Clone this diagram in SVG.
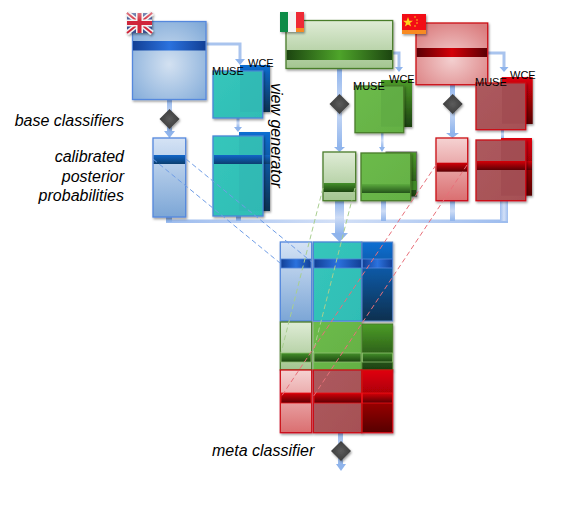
<svg xmlns="http://www.w3.org/2000/svg" width="579" height="508" viewBox="0 0 579 508">
<style>
.lbl{font:italic 16px "Liberation Sans",Arial,sans-serif;fill:#000}
.tag{font:11px "Liberation Sans",Arial,sans-serif;fill:#000}
.s{filter:url(#sh)}
.bl{stroke:#5588dd;stroke-width:1.3}
.gr{stroke:#4a7d2c;stroke-width:1.3}
.rd{stroke:#cc0f18;stroke-width:1.3}
.te{stroke:#4a86d8;stroke-width:1.3;fill:url(#teal)}
.mg{stroke:#4a7d2c;stroke-width:1.3;fill:url(#midg)}
.mr{stroke:#cc0f18;stroke-width:1.3;fill:url(#midr)}
.flow{fill:url(#fv)}
.flowh{fill:url(#fh)}
.head{fill:#8fb4ec}
.dash{fill:none;stroke-width:1;stroke-dasharray:5 3}
.db{stroke:#6f9de6}.dg{stroke:#a9cf90}.dr{stroke:#e8707a}
</style>
<defs>
<filter id="sh" x="-20%" y="-20%" width="150%" height="150%"><feDropShadow dx="1" dy="1.5" stdDeviation="1.3" flood-color="#000" flood-opacity=".4"/></filter>
<radialGradient id="bb" cx=".5" cy=".55" r=".7"><stop offset="0" stop-color="#d3e1f1"/><stop offset="1" stop-color="#7fa9d8"/></radialGradient>
<linearGradient id="bv" x1="0" y1="0" x2="0" y2="1"><stop offset="0" stop-color="#d5e3f5"/><stop offset="1" stop-color="#7ca6d6"/></linearGradient>
<linearGradient id="bandb" x1="0" y1="0" x2="1" y2="0"><stop offset="0" stop-color="#123f95"/><stop offset=".5" stop-color="#2b72de"/><stop offset="1" stop-color="#123f95"/></linearGradient>
<linearGradient id="bandb2" x1="0" y1="0" x2="0" y2="1"><stop offset="0" stop-color="#1266c8"/><stop offset="1" stop-color="#0b3f70"/></linearGradient>
<linearGradient id="db" x1="0" y1="0" x2="0" y2="1"><stop offset="0" stop-color="#0a6ed2"/><stop offset="1" stop-color="#08304f"/></linearGradient>
<linearGradient id="teal" x1="0" y1="0" x2="1" y2="1"><stop offset="0" stop-color="#36c6bb"/><stop offset="1" stop-color="#2fbdb5"/></linearGradient>
<linearGradient id="gv" x1="0" y1="0" x2="0" y2="1"><stop offset="0" stop-color="#dfecd6"/><stop offset="1" stop-color="#a3c590"/></linearGradient>
<linearGradient id="bandg" x1="0" y1="0" x2="1" y2="0"><stop offset="0" stop-color="#1c4510"/><stop offset=".5" stop-color="#4ea42a"/><stop offset="1" stop-color="#1c4510"/></linearGradient>
<linearGradient id="bandg2" x1="0" y1="0" x2="0" y2="1"><stop offset="0" stop-color="#44902a"/><stop offset="1" stop-color="#1c4510"/></linearGradient>
<linearGradient id="bandg3" x1="0" y1="0" x2="0" y2="1"><stop offset="0" stop-color="#5cab3e"/><stop offset="1" stop-color="#24541a"/></linearGradient>
<linearGradient id="dg" x1="0" y1="0" x2="0" y2="1"><stop offset="0" stop-color="#4c9c28"/><stop offset="1" stop-color="#1c4010"/></linearGradient>
<linearGradient id="midg" x1="0" y1="0" x2="1" y2="1"><stop offset="0" stop-color="#6cbb4b"/><stop offset="1" stop-color="#64b044"/></linearGradient>
<radialGradient id="rb" cx=".5" cy=".6" r=".7"><stop offset="0" stop-color="#f3cfcf"/><stop offset="1" stop-color="#da7b7d"/></radialGradient>
<linearGradient id="rv" x1="0" y1="0" x2="0" y2="1"><stop offset="0" stop-color="#f5d2d2"/><stop offset="1" stop-color="#da6e70"/></linearGradient>
<linearGradient id="bandr" x1="0" y1="0" x2="1" y2="0"><stop offset="0" stop-color="#5a0004"/><stop offset=".5" stop-color="#d40008"/><stop offset="1" stop-color="#5a0004"/></linearGradient>
<linearGradient id="bandr2" x1="0" y1="0" x2="0" y2="1"><stop offset="0" stop-color="#d40008"/><stop offset="1" stop-color="#5a0004"/></linearGradient>
<linearGradient id="dr" x1="0" y1="0" x2="0" y2="1"><stop offset="0" stop-color="#e00008"/><stop offset="1" stop-color="#560004"/></linearGradient>
<linearGradient id="midr" x1="0" y1="0" x2="1" y2="1"><stop offset="0" stop-color="#ac5a5e"/><stop offset="1" stop-color="#a65055"/></linearGradient>
<linearGradient id="fv" x1="0" y1="0" x2="0" y2="1"><stop offset="0" stop-color="#8fb4ec"/><stop offset=".5" stop-color="#cddcf6"/><stop offset="1" stop-color="#8fb4ec"/></linearGradient>
<linearGradient id="fh" x1="0" y1="0" x2="1" y2="0"><stop offset="0" stop-color="#9dbcee"/><stop offset=".5" stop-color="#d3e0f7"/><stop offset="1" stop-color="#9dbcee"/></linearGradient>
<radialGradient id="dia"><stop offset="0" stop-color="#5c5c5c"/><stop offset="1" stop-color="#3c3c3c"/></radialGradient>
<linearGradient id="fl" x1="0" y1="0" x2="0" y2="1"><stop offset="0" stop-color="#fff" stop-opacity=".35"/><stop offset=".4" stop-color="#fff" stop-opacity="0"/></linearGradient>
</defs>

<g id="connectors-flow">
<rect class="flow" x="167" y="99" width="5" height="33"/><polygon class="head" points="164,131 175,131 169.5,138"/>
<path d="M206 44H240V60" fill="none" stroke="#a9c4ee" stroke-width="3"/><polygon class="head" points="235,59 245,59 240,65"/>
<rect class="flow" x="236.500" y="118" width="3" height="10"/><polygon class="head" points="234,127 242,127 238,132"/>
<rect class="flowh" x="166" y="219.500" width="342" height="3.500"/>
<rect x="166" y="216" width="6" height="6" fill="#8fb4ec"/><rect x="236" y="216" width="5" height="5" fill="#8fb4ec"/>
<rect class="flow" x="337" y="68" width="5" height="80"/><polygon class="head" points="334,147 345,147 339.500,152"/>
<path d="M393 53H399V68" fill="none" stroke="#a9c4ee" stroke-width="3"/><polygon class="head" points="395,67 403,67 399,72"/>
<rect class="flow" x="381" y="133" width="2.500" height="15"/><polygon class="head" points="379,147 385,147 382,152"/>
<rect class="flow" x="335" y="201" width="9" height="33"/><polygon class="head" points="331,233 348,233 339.500,242"/>
<rect class="flow" x="381" y="201" width="5" height="20"/>
<rect class="flow" x="450" y="85" width="5" height="48"/><polygon class="head" points="446,133 459,133 452.500,138"/>
<path d="M488 53H504V68" fill="none" stroke="#a9c4ee" stroke-width="3"/><polygon class="head" points="499.500,67 508.500,67 504,72"/>
<rect class="flow" x="501" y="130" width="3" height="8"/>
<rect class="flow" x="450" y="201" width="5" height="20"/>
<rect class="flowh" x="500" y="201" width="8" height="20"/>
<rect class="flow" x="338" y="433" width="5" height="32"/><polygon class="head" points="336,464 346,464 341,471"/>
</g>

<g id="uk-source">
<rect class="bl s" x="132.500" y="21.500" width="73.500" height="78" fill="url(#bb)"/>
<rect x="133" y="41" width="72.500" height="9.500" fill="url(#bandb)"/>
</g>
<g id="uk-flag" class="s">
<rect x="127" y="13" width="25" height="20" fill="#3a4f90"/>
<path d="M127 13L152 33M152 13L127 33" stroke="#f2f2f2" stroke-width="5"/>
<path d="M127 13L152 33M152 13L127 33" stroke="#d0283a" stroke-width="2"/>
<path d="M139.500 13V33M127 23H152" stroke="#f2f2f2" stroke-width="7"/>
<path d="M139.500 13V33M127 23H152" stroke="#d0283a" stroke-width="4"/>
<rect x="127" y="13" width="25" height="20" fill="url(#fl)"/>
</g>
<g id="uk-views">
<rect class="s" x="240" y="65" width="30" height="47" fill="url(#db)"/>
<rect class="te s" x="213" y="71" width="49.700" height="47"/>
<rect x="240" y="71.700" width="22" height="40" fill="#2fb3b2" fill-opacity=".5"/>
<text class="tag" x="212" y="75">MUSE</text>
<text class="tag" x="248" y="67">WCE</text>
</g>
<g id="uk-calibrated-views">
<rect class="s" x="239" y="132" width="31" height="79" fill="url(#db)"/>
<rect x="262" y="155" width="8" height="9" fill="url(#bandb2)"/>
<rect class="te s" x="213" y="136" width="50" height="80"/>
<rect x="239" y="136.700" width="23.300" height="74" fill="#2fb3b2" fill-opacity=".5"/>
<rect x="214" y="155" width="48" height="9" fill="url(#bandb2)"/>
</g>
<g id="uk-calibrated">
<rect class="bl s" x="153" y="138" width="32.700" height="79" fill="url(#bv)"/>
<rect x="153.700" y="155" width="31.300" height="9" fill="url(#bandb2)"/>
</g>
<g id="uk-diamond"><polygon class="s" points="169.500,109 179.500,119 169.500,129 159.500,119" fill="url(#dia)"/></g>

<g id="it-source">
<rect class="gr s" x="286" y="20.500" width="106.700" height="48" fill="url(#gv)"/>
<rect x="286.700" y="50" width="105.300" height="10" fill="url(#bandg)"/>
</g>
<g id="it-flag" class="s">
<rect x="280" y="12" width="8" height="20" fill="#0f8b46"/><rect x="288" y="12" width="8" height="20" fill="#f4f4f4"/><rect x="296" y="12" width="8" height="20" fill="#ee2a35"/>
<rect x="296" y="28" width="8" height="4" fill="#f88a20"/>
</g>
<g id="it-views">
<rect class="s" x="381" y="80" width="31" height="47" fill="url(#dg)"/>
<rect class="mg s" x="355" y="86" width="48.700" height="46.700"/>
<rect x="381" y="86.700" width="22" height="40" fill="#5ea842" fill-opacity=".6"/>
<text class="tag" x="353" y="90">MUSE</text>
<text class="tag" x="389" y="83">WCE</text>
</g>
<g id="it-calibrated-views">
<rect class="s" x="386" y="152" width="30.700" height="44.700" fill="url(#dg)" stroke="#666" stroke-width="1"/>
<rect x="410" y="181" width="6.700" height="9" fill="#3f8a24"/>
<rect class="mg s" x="361" y="153" width="49.700" height="47.700"/>
<rect x="362" y="184" width="48" height="9" fill="url(#bandg3)"/>
</g>
<g id="it-calibrated">
<rect class="gr s" x="323" y="152" width="32.700" height="48.700" fill="url(#gv)"/>
<rect x="323.700" y="183" width="31.300" height="9" fill="url(#bandg2)"/>
</g>
<g id="it-diamond"><polygon class="s" points="339.500,94 349.500,104 339.500,114 329.500,104" fill="url(#dia)"/></g>

<g id="cn-source">
<rect class="rd s" x="416" y="23" width="71.700" height="61.700" fill="url(#rb)"/>
<rect x="416.700" y="48" width="70.300" height="9" fill="url(#bandr)"/>
</g>
<g id="cn-flag" class="s">
<rect x="402" y="14" width="24" height="20" fill="#f20d12"/>
<rect x="402" y="30" width="24" height="4" fill="#f88a20"/>
<polygon points="408,17 409.300,20.800 413,20.800 410,23 411.200,26.500 408,24.400 404.800,26.500 406,23 403,20.800 406.700,20.800" fill="#ffd21a"/>
<circle cx="415" cy="17" r=".8" fill="#ffd21a"/><circle cx="417" cy="20" r=".8" fill="#ffd21a"/><circle cx="417" cy="23" r=".8" fill="#ffd21a"/><circle cx="415" cy="26" r=".8" fill="#ffd21a"/>
</g>
<g id="cn-views">
<rect class="s" x="501.700" y="77" width="31" height="47" fill="url(#dr)"/>
<rect class="mr s" x="476" y="83" width="49.700" height="46.700"/>
<rect x="502" y="83.700" width="23" height="40" fill="#a04a50" fill-opacity=".7"/>
<text class="tag" x="475" y="86">MUSE</text>
<text class="tag" x="510" y="79">WCE</text>
</g>
<g id="cn-calibrated-views">
<rect class="s" x="501" y="138" width="31" height="57.700" fill="url(#dr)"/>
<rect x="525" y="161" width="7" height="9" fill="url(#bandr2)"/>
<rect class="mr s" x="476" y="140" width="49.700" height="60.700"/>
<rect x="501" y="140.700" width="24" height="55" fill="#a04a50" fill-opacity=".7"/>
<rect x="477" y="161" width="48" height="9" fill="url(#bandr2)"/>
</g>
<g id="cn-calibrated">
<rect class="rd s" x="436" y="138" width="31.700" height="62.700" fill="url(#rv)"/>
<rect x="436.700" y="162.700" width="30.300" height="9" fill="url(#bandr2)"/>
</g>
<g id="cn-diamond"><polygon class="s" points="452.700,94 462.700,104 452.700,114 442.700,104" fill="url(#dia)"/></g>

<g id="meta-matrix">
<rect class="bl s" x="280.300" y="242" width="31.400" height="79" fill="url(#bv)"/>
<rect class="te s" x="313.300" y="242" width="48.400" height="79"/>
<rect class="s" x="362" y="242" width="30.700" height="79" fill="url(#db)" stroke="#5f86c8" stroke-width="1"/>
<rect x="281" y="259" width="30" height="9" fill="url(#bandb)" stroke="#5588dd" stroke-width=".8"/>
<rect x="314" y="259" width="47.500" height="9" fill="url(#bandb)" stroke="#5588dd" stroke-width=".8"/>
<rect x="362.500" y="259" width="30" height="9" fill="url(#bandb)" stroke="#5588dd" stroke-width=".8"/>
<rect class="gr s" x="280.300" y="322" width="31.400" height="48" fill="url(#gv)"/>
<rect class="s" x="313.300" y="322" width="48.400" height="48" fill="url(#midg)"/>
<rect class="s" x="362" y="324" width="30.700" height="46" fill="url(#dg)" stroke="#4a7d2c" stroke-width="1"/>
<rect x="281" y="353" width="30" height="9" fill="url(#bandg2)" stroke="#8fc070" stroke-width=".8"/>
<rect x="314" y="353" width="47" height="9" fill="url(#bandg2)" stroke="#8fc070" stroke-width=".8"/>
<rect x="362.500" y="353" width="30" height="9" fill="url(#bandg2)" stroke="#8fc070" stroke-width=".8"/>
<rect class="rd s" x="280.300" y="370" width="31.400" height="62.700" fill="url(#rv)"/>
<rect class="mr s" x="313.300" y="370" width="48.400" height="62.700"/>
<rect class="rd s" x="362" y="370" width="30.700" height="62.700" fill="url(#dr)"/>
<rect x="281" y="393" width="30" height="10" fill="url(#bandr2)" stroke="#ee1118" stroke-width=".8"/>
<rect x="314" y="393" width="47.500" height="10" fill="url(#bandr2)" stroke="#ee1118" stroke-width=".8"/>
<rect x="362.500" y="393" width="30" height="10" fill="url(#bandr2)" stroke="#ee1118" stroke-width=".8"/>
</g>
<g id="meta-diamond"><polygon class="s" points="341,441 351,451 341,461 331,451" fill="url(#dia)"/></g>

<g id="connectors-dashed">
<path class="dash db" d="M153 159L280 263"/>
<path class="dash db" d="M186 159L313 263"/>
<path class="dash dg" d="M323 188L281 353"/>
<path class="dash dg" d="M355 188L313 353"/>
<path class="dash dr" d="M436 165L281 397"/>
<path class="dash dr" d="M467 165L313 397"/>
</g>

<g id="labels">
<text class="lbl" x="124" y="126" text-anchor="end">base classifiers</text>
<text class="lbl" x="124" y="162" text-anchor="end">calibrated</text>
<text class="lbl" x="124" y="182" text-anchor="end">posterior</text>
<text class="lbl" x="124" y="201" text-anchor="end">probabilities</text>
<text class="lbl" x="212" y="456">meta classifier</text>
<text class="lbl" transform="translate(271 83) rotate(90)">view generator</text>
</g>
</svg>
